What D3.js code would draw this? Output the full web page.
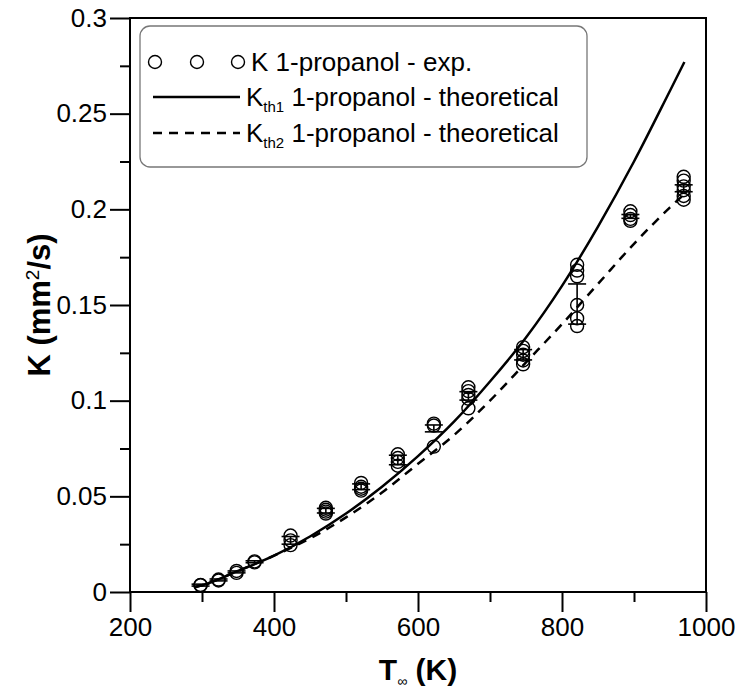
<!DOCTYPE html>
<html>
<head>
<meta charset="utf-8">
<script src="https://cdn.jsdelivr.net/npm/d3@7"></script>
<style>
  html, body { margin: 0; padding: 0; background: #fff; }
  svg { display: block; font-family: "Liberation Sans", Arial, sans-serif; }
</style>
</head>
<body>
<svg id="chart" width="735" height="690"></svg>
<script>
// ---- data ----
const tExp = [298, 323, 348, 373, 423, 472, 521, 572, 622, 670, 746, 821, 895, 969];
const kExp = [
  [0.0035, 0.0037],
  [0.0060, 0.0065],
  [0.0100, 0.0110],
  [0.0155, 0.0160],
  [0.0295, 0.0270, 0.0245],
  [0.0440, 0.0430, 0.0420, 0.0410],
  [0.0570, 0.0550, 0.0540, 0.0530],
  [0.0720, 0.0700, 0.0680, 0.0660],
  [0.0880, 0.0870, 0.0760],
  [0.1070, 0.1050, 0.1030, 0.1010, 0.0960],
  [0.1280, 0.1260, 0.1240, 0.1210, 0.1190],
  [0.1710, 0.1680, 0.1650, 0.1500, 0.1430, 0.1390],
  [0.1990, 0.1970, 0.1950, 0.1940],
  [0.2170, 0.2150, 0.2120, 0.2100, 0.2070, 0.2050]
];
const kMean = [0.0036, 0.0063, 0.0105, 0.0158, 0.0270, 0.0425, 0.0550, 0.0690, 0.0855, 0.1025, 0.1240, 0.1505, 0.1963, 0.2110];
const kErr  = [0.0005, 0.0005, 0.0005, 0.0005, 0.0020, 0.0012, 0.0015, 0.0025, 0.0018, 0.0022, 0.0027, 0.0105, 0.0010, 0.0018];

const tCurve = [290, 300, 350, 400, 450, 500, 550, 600, 650, 700, 750, 800, 850, 900, 950, 970];
const kTh1   = [0.0025, 0.0035, 0.011, 0.019, 0.029, 0.041, 0.055, 0.071, 0.089, 0.110, 0.133, 0.160, 0.191, 0.225, 0.262, 0.277];
const kTh2   = [0.0025, 0.0035, 0.011, 0.019, 0.028, 0.039, 0.052, 0.067, 0.082, 0.100, 0.120, 0.140, 0.161, 0.182, 0.201, 0.208];

const xMajor = [200, 400, 600, 800, 1000];
const xMinor = [300, 500, 700, 900];
const yMajor = [0, 0.05, 0.1, 0.15, 0.2, 0.25, 0.3];
const yMinor = [0.025, 0.075, 0.125, 0.175, 0.225, 0.275];

const legendLabels = ["K 1-propanol - exp.", "th1", "th2"];

// ---- layout ----
const svg = d3.select("#chart");
const L = 130, R = 706, T = 18, B = 592;
const x = d3.scaleLinear().domain([200, 1000]).range([L, R]);
const y = d3.scaleLinear().domain([0, 0.3]).range([B, T]);

const FONT = 26;

// axes
const gx = svg.append("g").attr("transform", `translate(0,${B})`)
  .call(d3.axisBottom(x).tickValues(xMajor).tickSize(20).tickPadding(6).tickFormat(d3.format("d")));
const gxm = svg.append("g").attr("transform", `translate(0,${B})`)
  .call(d3.axisBottom(x).tickValues(xMinor).tickSize(10).tickFormat(""));
const gy = svg.append("g").attr("transform", `translate(${L},0)`)
  .call(d3.axisLeft(y).tickValues(yMajor).tickSize(20).tickPadding(3).tickFormat(d => d === 0 ? "0" : String(+d.toFixed(3))));
const gym = svg.append("g").attr("transform", `translate(${L},0)`)
  .call(d3.axisLeft(y).tickValues(yMinor).tickSize(10).tickFormat(""));

[gx, gxm, gy, gym].forEach(g => {
  g.selectAll("path").attr("stroke", "#000").attr("stroke-width", 2);
  g.selectAll("line").attr("stroke", "#000").attr("stroke-width", 2);
  g.selectAll("text").attr("fill", "#000").style("font-size", FONT + "px")
    .style("font-family", "'Liberation Sans', Arial, sans-serif");
});
gx.select(".domain").remove(); gxm.select(".domain").remove();
gy.select(".domain").remove(); gym.select(".domain").remove();

// frame
svg.append("rect").attr("x", L).attr("y", T).attr("width", R - L).attr("height", B - T)
  .attr("fill", "none").attr("stroke", "#000").attr("stroke-width", 2);

// curves
const line = d3.line().x((d, i) => x(tCurve[i])).y(d => y(d)).curve(d3.curveMonotoneX);
svg.append("path").attr("d", line(kTh1)).attr("fill", "none")
  .attr("stroke", "#000").attr("stroke-width", 2.5);
svg.append("path").attr("d", line(kTh2)).attr("fill", "none")
  .attr("stroke", "#000").attr("stroke-width", 2.5).attr("stroke-dasharray", "9,7");

// error bars
const eb = svg.append("g").attr("stroke", "#000").attr("stroke-width", 1.6);
tExp.forEach((t, i) => {
  const cx = x(t), y1 = y(kMean[i] - kErr[i]), y2 = y(kMean[i] + kErr[i]);
  eb.append("line").attr("x1", cx).attr("x2", cx).attr("y1", y1).attr("y2", y2);
  eb.append("line").attr("x1", cx - 9).attr("x2", cx + 9).attr("y1", y1).attr("y2", y1);
  eb.append("line").attr("x1", cx - 9).attr("x2", cx + 9).attr("y1", y2).attr("y2", y2);
});

// experimental circles
const pts = svg.append("g");
tExp.forEach((t, i) => {
  kExp[i].forEach(k => {
    pts.append("circle").attr("cx", x(t)).attr("cy", y(k)).attr("r", 6.5)
      .attr("fill", "none").attr("stroke", "#000").attr("stroke-width", 1.4);
  });
});

// legend
const lg = svg.append("g");
lg.append("rect").attr("x", 140).attr("y", 26).attr("width", 447).attr("height", 141)
  .attr("rx", 10).attr("fill", "#fff").attr("stroke", "#777").attr("stroke-width", 1.3);
[155, 197, 238].forEach(cx => {
  lg.append("circle").attr("cx", cx).attr("cy", 62).attr("r", 6.5)
    .attr("fill", "none").attr("stroke", "#000").attr("stroke-width", 1.4);
});
lg.append("text").attr("x", 251).attr("y", 71).style("font-size", FONT + "px").text(legendLabels[0]);
lg.append("line").attr("x1", 153).attr("x2", 240).attr("y1", 97).attr("y2", 97)
  .attr("stroke", "#000").attr("stroke-width", 2.5);
lg.append("line").attr("x1", 153).attr("x2", 240).attr("y1", 133).attr("y2", 133)
  .attr("stroke", "#000").attr("stroke-width", 2.5).attr("stroke-dasharray", "9,7");
[[106, legendLabels[1]], [142, legendLabels[2]]].forEach(([yy, sub]) => {
  const tx = lg.append("text").attr("x", 246).attr("y", yy).style("font-size", FONT + "px");
  tx.append("tspan").text("K");
  tx.append("tspan").attr("dy", 6).style("font-size", "15px").text(sub);
  tx.append("tspan").attr("dy", -6).text(" 1-propanol - theoretical");
});

// axis titles
const yt = svg.append("text").attr("transform", "translate(50,305) rotate(-90)")
  .attr("text-anchor", "middle").style("font-size", "31px").style("font-weight", "bold");
yt.append("tspan").text("K (mm");
yt.append("tspan").attr("dy", -11).style("font-size", "19px").style("font-weight", "normal").text("2");
yt.append("tspan").attr("dy", 11).text("/s)");

const xt = svg.append("text").attr("x", 418).attr("y", 680).attr("text-anchor", "middle")
  .style("font-size", "30px").style("font-weight", "bold");
xt.append("tspan").text("T");
xt.append("tspan").attr("dy", 6).style("font-size", "14px").style("font-weight", "normal").text("∞");
xt.append("tspan").attr("dy", -6).text(" (K)");
</script>
</body>
</html>
